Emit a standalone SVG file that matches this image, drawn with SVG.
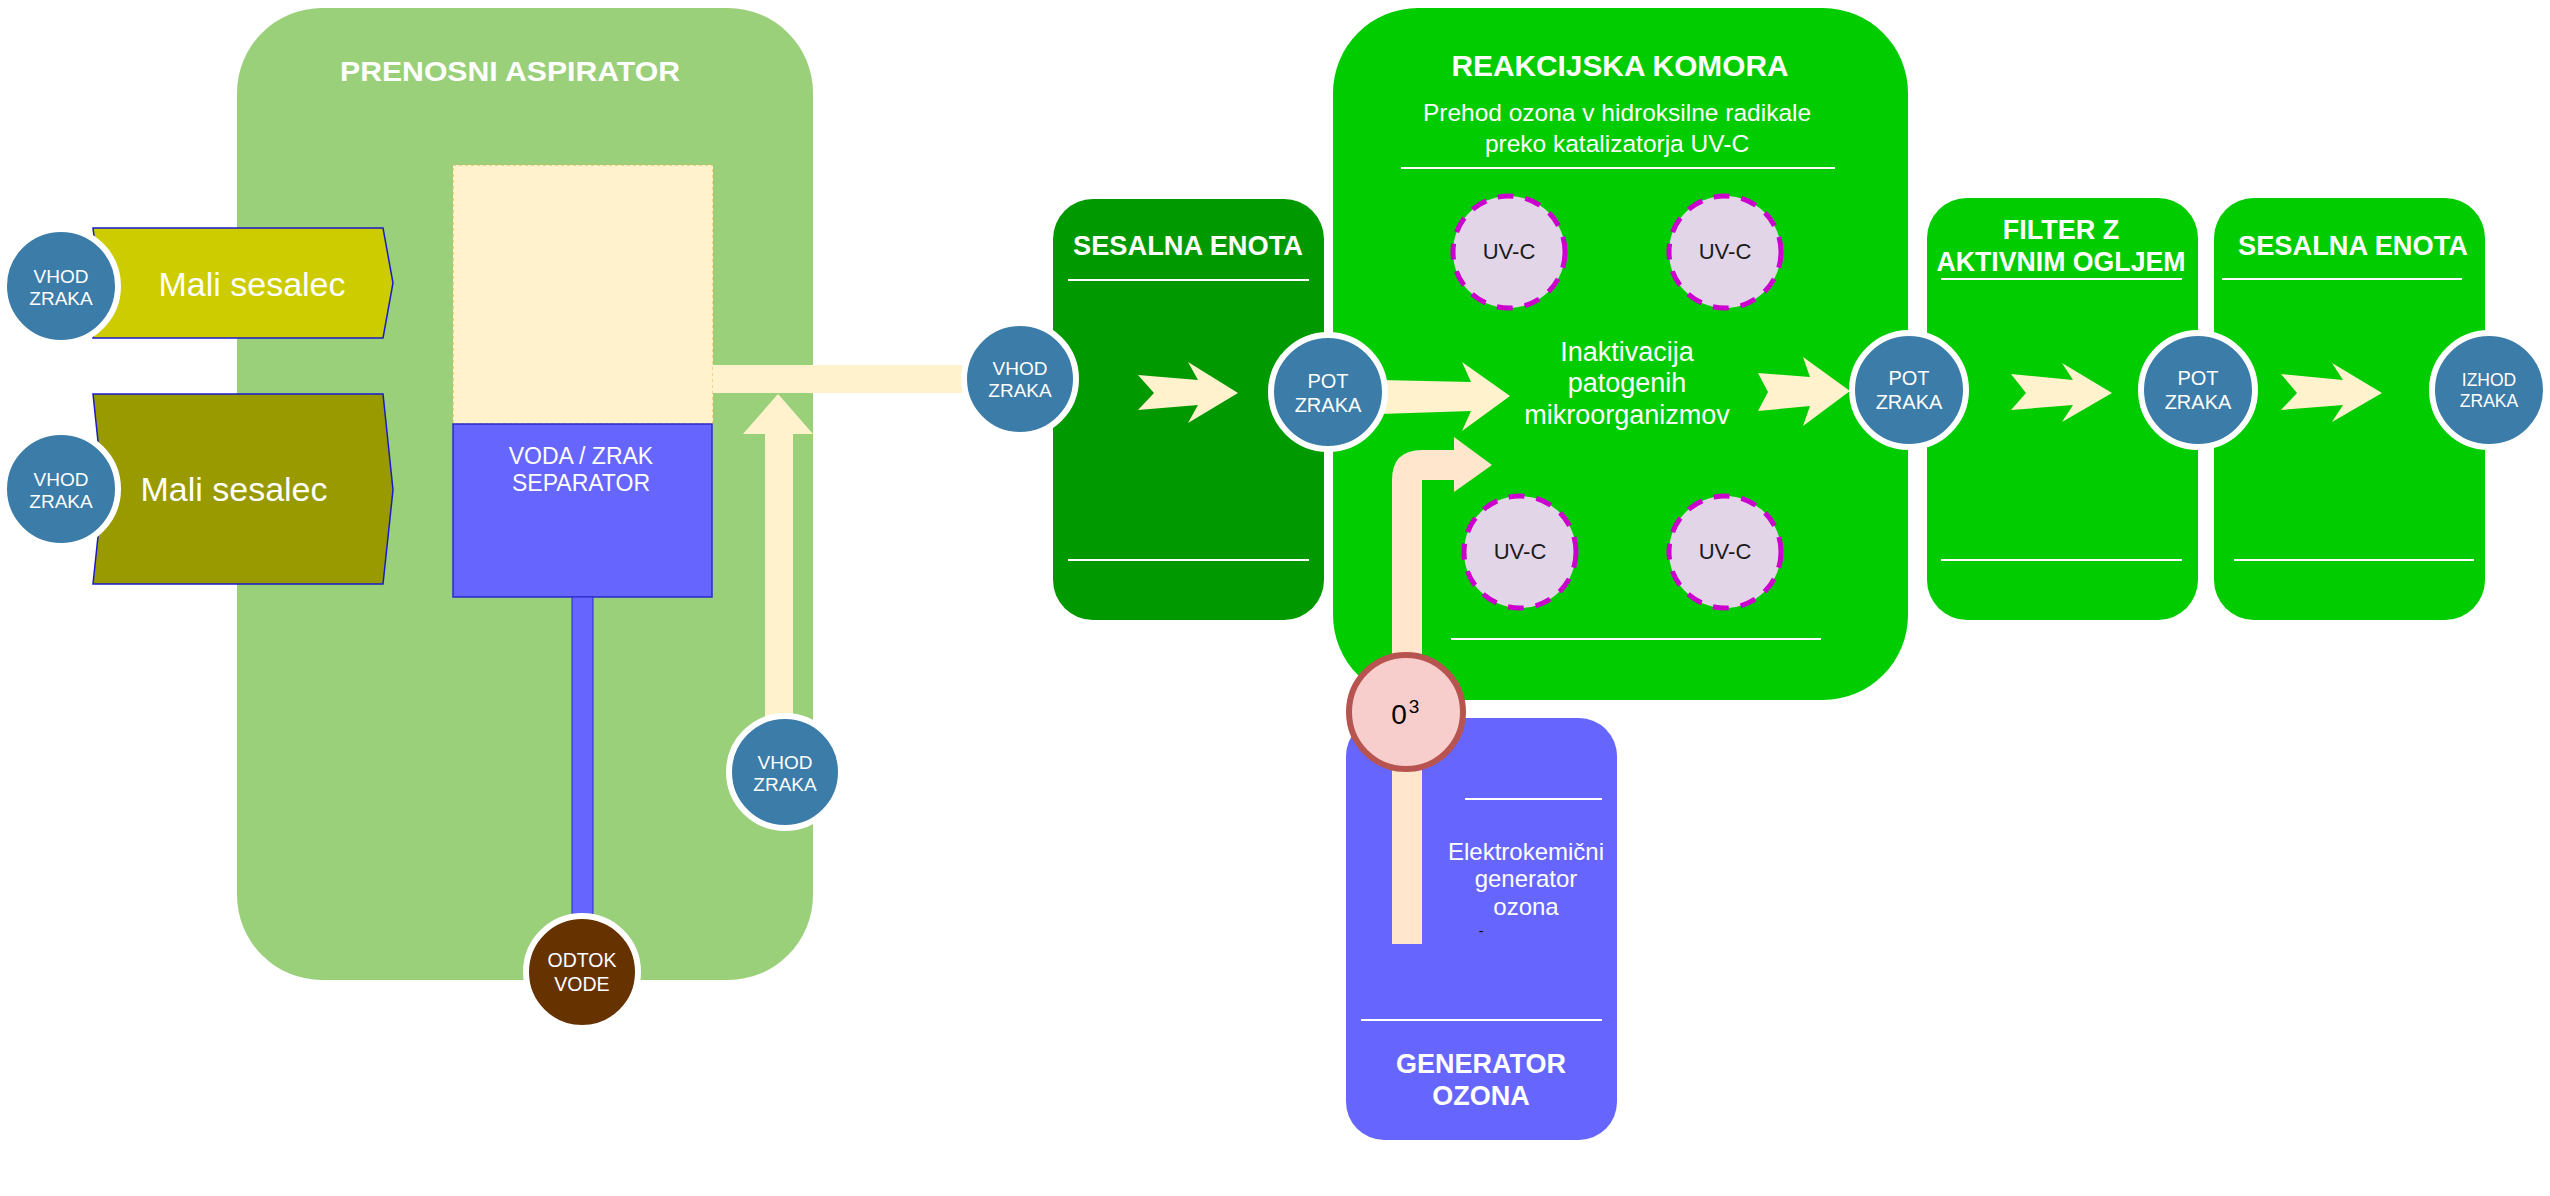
<svg xmlns="http://www.w3.org/2000/svg" width="2550" height="1196" viewBox="0 0 2550 1196">
<style>
text{font-family:"Liberation Sans",Arial,sans-serif;}
.w{fill:#ffffff;}
.b{font-weight:bold;}
.k{fill:#1a1a1a;}
.c{text-anchor:middle;}
.circ{fill:#3b7ca8;stroke:#ffffff;stroke-width:6;}
.uv{fill:#e1d5e7;stroke:#cc00cc;stroke-width:5;stroke-dasharray:16 12;}
.ln{stroke:#ffffff;stroke-width:2;fill:none;}
.cream{fill:#fff2cc;}
.peach{fill:#ffe6cc;}
.bg{fill:#00cc00;}
</style>
<rect width="2550" height="1196" fill="#ffffff"/>

<g id="aspirator">
<rect x="237" y="8" width="576" height="972" rx="85" ry="85" fill="#9bd07b"/>
<text class="w b c" x="510" y="81" font-size="28" textLength="340" lengthAdjust="spacingAndGlyphs">PRENOSNI ASPIRATOR</text>
</g>

<g id="separator">
<rect x="453" y="165" width="260" height="259" fill="#fff2cc" stroke="#d6b656" stroke-width="1" stroke-dasharray="3 3"/>
<rect x="453" y="424" width="259" height="173" fill="#6666ff" stroke="#2b2bcc" stroke-width="1.5"/>
<text class="w c" x="581" y="464" font-size="23">VODA / ZRAK</text>
<text class="w c" x="581" y="491" font-size="23">SEPARATOR</text>
</g>

<g id="mali-sesalec-1">
<polygon points="93,228 383,228 393,283 383,338 93,338 100,283" fill="#cccc00" stroke="#1a1acc" stroke-width="1.5"/>
<text class="w c" x="252" y="296" font-size="34">Mali sesalec</text>
</g>

<g id="mali-sesalec-2">
<polygon points="93,394 383,394 393,490 383,584 93,584 103,489" fill="#999900" stroke="#1a1acc" stroke-width="1.5"/>
<text class="w c" x="234" y="501" font-size="34">Mali sesalec</text>
</g>

<g id="sesalna-enota-1">
<rect x="1053" y="199" width="271" height="421" rx="40" ry="40" fill="#009900"/>
<text class="w b c" x="1188" y="255" font-size="27" textLength="230" lengthAdjust="spacingAndGlyphs">SESALNA ENOTA</text>
<line class="ln" x1="1068" y1="280" x2="1309" y2="280"/>
<line class="ln" x1="1068" y1="560" x2="1309" y2="560"/>
</g>

<g id="reakcijska-komora">
<rect x="1333" y="8" width="575" height="692" rx="85" ry="85" class="bg"/>
<text class="w b c" x="1620" y="76" font-size="29.5" textLength="337" lengthAdjust="spacingAndGlyphs">REAKCIJSKA KOMORA</text>
<text class="w c" x="1617" y="121" font-size="24.5">Prehod ozona v hidroksilne radikale</text>
<text class="w c" x="1617" y="152" font-size="24.5">preko katalizatorja UV-C</text>
<line class="ln" x1="1401" y1="168" x2="1835" y2="168"/>
<line class="ln" x1="1451" y1="639" x2="1821" y2="639"/>
<text class="w c" x="1627" y="361" font-size="27">Inaktivacija</text>
<text class="w c" x="1627" y="392" font-size="27">patogenih</text>
<text class="w c" x="1627" y="424" font-size="27">mikroorganizmov</text>
</g>

<g id="filter">
<rect x="1927" y="198" width="271" height="422" rx="40" ry="40" class="bg"/>
<text class="w b c" x="2061" y="239" font-size="27">FILTER Z</text>
<text class="w b c" x="2061" y="271" font-size="27" textLength="249" lengthAdjust="spacingAndGlyphs">AKTIVNIM OGLJEM</text>
<line class="ln" x1="1941" y1="279" x2="2182" y2="279"/>
<line class="ln" x1="1941" y1="560" x2="2182" y2="560"/>
</g>

<g id="sesalna-enota-2">
<rect x="2214" y="198" width="271" height="422" rx="40" ry="40" class="bg"/>
<text class="w b c" x="2353" y="255" font-size="27" textLength="230" lengthAdjust="spacingAndGlyphs">SESALNA ENOTA</text>
<line class="ln" x1="2222" y1="279" x2="2462" y2="279"/>
<line class="ln" x1="2234" y1="560" x2="2474" y2="560"/>
</g>

<g id="generator-ozona">
<rect x="1346" y="718" width="271" height="422" rx="38" ry="38" fill="#6666ff"/>
<line class="ln" x1="1465" y1="799" x2="1602" y2="799"/>
<text class="w c" x="1526" y="860" font-size="24">Elektrokemični</text>
<text class="w c" x="1526" y="887" font-size="24">generator</text>
<text class="w c" x="1526" y="915" font-size="24">ozona</text>
<text x="1481" y="936" font-size="14" fill="#000000" class="c">-</text>
<line class="ln" x1="1361" y1="1020" x2="1602" y2="1020"/>
<text class="w b c" x="1481" y="1073" font-size="27">GENERATOR</text>
<text class="w b c" x="1481" y="1105" font-size="27">OZONA</text>
</g>

<g id="connectors">
<rect x="572" y="597" width="21" height="325" fill="#6666ff" stroke="#2b2bcc" stroke-width="1"/>
<rect class="cream" x="713" y="365" width="255" height="28"/>
<polygon class="cream" points="765,718 765,434 743,434 778,394 813,434 793,434 793,718"/>
<polygon class="cream" points="1138,375 1198,380 1188,362 1238,393 1188,423 1198,405 1138,410 1154,393"/>
<polygon class="cream" points="1380,380 1471,382 1462,362 1510,396 1462,431 1471,411 1380,414"/>
<path class="peach" d="M1392,944 L1392,480 Q1392,450 1422,450 L1454,450 L1454,437 L1492,465 L1454,492 L1454,480 L1422,480 L1422,944 Z"/>
<polygon class="cream" points="1758,373 1810,377 1803,357 1850,391 1803,426 1810,406 1758,411 1768,392"/>
<polygon class="cream" points="2011,374 2073,380 2062,363 2112,393 2062,422 2073,405 2011,410 2026,393"/>
<polygon class="cream" points="2281,374 2343,380 2332,363 2382,393 2332,422 2343,405 2281,410 2297,393"/>
</g>

<g id="uvc-1"><circle class="uv" cx="1509" cy="252" r="56"/><text class="k c" x="1509" y="259" font-size="22">UV-C</text></g>
<g id="uvc-2"><circle class="uv" cx="1725" cy="252" r="56"/><text class="k c" x="1725" y="259" font-size="22">UV-C</text></g>
<g id="uvc-3"><circle class="uv" cx="1520" cy="552" r="56"/><text class="k c" x="1520" y="559" font-size="22">UV-C</text></g>
<g id="uvc-4"><circle class="uv" cx="1725" cy="552" r="56"/><text class="k c" x="1725" y="559" font-size="22">UV-C</text></g>

<g id="vhod-zraka-1"><circle class="circ" cx="61" cy="286" r="57"/><text class="w c" x="61" y="283" font-size="19">VHOD</text><text class="w c" x="61" y="305" font-size="19">ZRAKA</text></g>
<g id="vhod-zraka-2"><circle class="circ" cx="61" cy="489" r="57"/><text class="w c" x="61" y="486" font-size="19">VHOD</text><text class="w c" x="61" y="508" font-size="19">ZRAKA</text></g>
<g id="vhod-zraka-3"><circle class="circ" cx="785" cy="772" r="56"/><text class="w c" x="785" y="769" font-size="19">VHOD</text><text class="w c" x="785" y="791" font-size="19">ZRAKA</text></g>
<g id="odtok-vode"><circle cx="582" cy="972" r="56" fill="#663300" stroke="#ffffff" stroke-width="6"/><text class="w c" x="582" y="967" font-size="19.5">ODTOK</text><text class="w c" x="582" y="991" font-size="19.5">VODE</text></g>
<g id="vhod-zraka-4"><circle class="circ" cx="1020" cy="379" r="56"/><text class="w c" x="1020" y="375" font-size="19">VHOD</text><text class="w c" x="1020" y="397" font-size="19">ZRAKA</text></g>
<g id="pot-zraka-1"><circle class="circ" cx="1328" cy="392" r="57"/><text class="w c" x="1328" y="388" font-size="20">POT</text><text class="w c" x="1328" y="412" font-size="20">ZRAKA</text></g>
<g id="pot-zraka-2"><circle class="circ" cx="1909" cy="390" r="57"/><text class="w c" x="1909" y="385" font-size="20">POT</text><text class="w c" x="1909" y="409" font-size="20">ZRAKA</text></g>
<g id="pot-zraka-3"><circle class="circ" cx="2198" cy="390" r="57"/><text class="w c" x="2198" y="385" font-size="20">POT</text><text class="w c" x="2198" y="409" font-size="20">ZRAKA</text></g>
<g id="izhod-zraka"><circle class="circ" cx="2489" cy="390" r="57"/><text class="w c" x="2489" y="386" font-size="17.5">IZHOD</text><text class="w c" x="2489" y="407" font-size="17.5">ZRAKA</text></g>
<g id="ozon"><circle cx="1406" cy="712" r="57" fill="#f8cecc" stroke="#b85450" stroke-width="6"/><text x="1399" y="724" font-size="28" fill="#000000" class="c">0</text><text x="1414" y="713" font-size="19" fill="#000000" class="c">3</text></g>
</svg>
